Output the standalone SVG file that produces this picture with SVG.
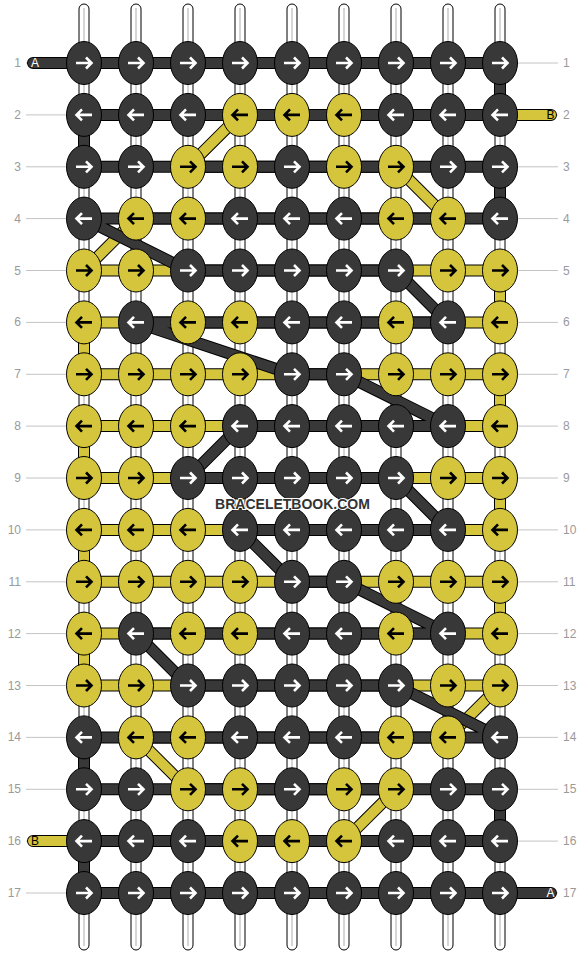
<svg xmlns="http://www.w3.org/2000/svg" width="584" height="956" viewBox="0 0 584 956">
<style>
.kd{fill:#383838;stroke:#000;stroke-width:1}
.ky{fill:#d4c53c;stroke:#000;stroke-width:1}
.aw{fill:none;stroke:#fff;stroke-width:2.6}
.ab{fill:none;stroke:#000;stroke-width:2.6}
.warp{fill:#fff;stroke:#000;stroke-width:1}
.wc{stroke:#c8c8c8;stroke-width:1.5}
.guide{stroke:#c4c4c4;stroke-width:1}
.num{font-family:"Liberation Sans",Arial,sans-serif;font-size:12px;fill:#9a9a9a}
.out{fill:none;stroke:#000;stroke-width:12;stroke-linecap:round;stroke-linejoin:round}
.sy{fill:none;stroke:#d4c53c;stroke-width:10;stroke-linecap:round;stroke-linejoin:round}
.sd{fill:none;stroke:#383838;stroke-width:10;stroke-linecap:round;stroke-linejoin:round}
.pl{font-family:"Liberation Sans",Arial,sans-serif;font-size:12px;text-anchor:middle}
.wm{font-family:"Liberation Sans",Arial,sans-serif;font-size:14px;font-weight:bold;fill:#333;text-anchor:middle;stroke:#fff;stroke-width:2;paint-order:stroke}
</style>
<defs>
<g id="dR"><ellipse rx="17.5" ry="21.5" class="kd"/><path class="aw" d="M-8,0H7M2,-5.5L7.5,0L2,5.5"/></g>
<g id="dL"><ellipse rx="17.5" ry="21.5" class="kd"/><path class="aw" d="M8,0H-7M-2,-5.5L-7.5,0L-2,5.5"/></g>
<g id="yR"><ellipse rx="17.5" ry="21.5" class="ky"/><path class="ab" d="M-8,0H7M2,-5.5L7.5,0L2,5.5"/></g>
<g id="yL"><ellipse rx="17.5" ry="21.5" class="ky"/><path class="ab" d="M8,0H-7M-2,-5.5L-7.5,0L-2,5.5"/></g>
</defs>
<rect width="584" height="956" fill="#fff"/>
<g id="guides">
<line class="guide" x1="26" y1="63" x2="558" y2="63"/>
<line class="guide" x1="26" y1="114.9" x2="558" y2="114.9"/>
<line class="guide" x1="26" y1="166.8" x2="558" y2="166.8"/>
<line class="guide" x1="26" y1="218.6" x2="558" y2="218.6"/>
<line class="guide" x1="26" y1="270.5" x2="558" y2="270.5"/>
<line class="guide" x1="26" y1="322.4" x2="558" y2="322.4"/>
<line class="guide" x1="26" y1="374.3" x2="558" y2="374.3"/>
<line class="guide" x1="26" y1="426.1" x2="558" y2="426.1"/>
<line class="guide" x1="26" y1="478" x2="558" y2="478"/>
<line class="guide" x1="26" y1="529.9" x2="558" y2="529.9"/>
<line class="guide" x1="26" y1="581.8" x2="558" y2="581.8"/>
<line class="guide" x1="26" y1="633.6" x2="558" y2="633.6"/>
<line class="guide" x1="26" y1="685.5" x2="558" y2="685.5"/>
<line class="guide" x1="26" y1="737.4" x2="558" y2="737.4"/>
<line class="guide" x1="26" y1="789.3" x2="558" y2="789.3"/>
<line class="guide" x1="26" y1="841.1" x2="558" y2="841.1"/>
<line class="guide" x1="26" y1="893" x2="558" y2="893"/>
</g>
<g id="row-numbers">
<text class="num" x="21" y="67" text-anchor="end">1</text>
<text class="num" x="21" y="118.9" text-anchor="end">2</text>
<text class="num" x="21" y="170.8" text-anchor="end">3</text>
<text class="num" x="21" y="222.6" text-anchor="end">4</text>
<text class="num" x="21" y="274.5" text-anchor="end">5</text>
<text class="num" x="21" y="326.4" text-anchor="end">6</text>
<text class="num" x="21" y="378.3" text-anchor="end">7</text>
<text class="num" x="21" y="430.1" text-anchor="end">8</text>
<text class="num" x="21" y="482" text-anchor="end">9</text>
<text class="num" x="21" y="533.9" text-anchor="end">10</text>
<text class="num" x="21" y="585.8" text-anchor="end">11</text>
<text class="num" x="21" y="637.6" text-anchor="end">12</text>
<text class="num" x="21" y="689.5" text-anchor="end">13</text>
<text class="num" x="21" y="741.4" text-anchor="end">14</text>
<text class="num" x="21" y="793.3" text-anchor="end">15</text>
<text class="num" x="21" y="845.1" text-anchor="end">16</text>
<text class="num" x="21" y="897" text-anchor="end">17</text>
<text class="num" x="563" y="67">1</text>
<text class="num" x="563" y="118.9">2</text>
<text class="num" x="563" y="170.8">3</text>
<text class="num" x="563" y="222.6">4</text>
<text class="num" x="563" y="274.5">5</text>
<text class="num" x="563" y="326.4">6</text>
<text class="num" x="563" y="378.3">7</text>
<text class="num" x="563" y="430.1">8</text>
<text class="num" x="563" y="482">9</text>
<text class="num" x="563" y="533.9">10</text>
<text class="num" x="563" y="585.8">11</text>
<text class="num" x="563" y="637.6">12</text>
<text class="num" x="563" y="689.5">13</text>
<text class="num" x="563" y="741.4">14</text>
<text class="num" x="563" y="793.3">15</text>
<text class="num" x="563" y="845.1">16</text>
<text class="num" x="563" y="897">17</text>
</g>
<g id="warps">
<rect class="warp" x="79" y="4" width="10" height="946" rx="5"/><line class="wc" x1="84" y1="8" x2="84" y2="946"/>
<rect class="warp" x="131" y="4" width="10" height="946" rx="5"/><line class="wc" x1="136" y1="8" x2="136" y2="946"/>
<rect class="warp" x="183" y="4" width="10" height="946" rx="5"/><line class="wc" x1="188" y1="8" x2="188" y2="946"/>
<rect class="warp" x="235" y="4" width="10" height="946" rx="5"/><line class="wc" x1="240" y1="8" x2="240" y2="946"/>
<rect class="warp" x="287" y="4" width="10" height="946" rx="5"/><line class="wc" x1="292" y1="8" x2="292" y2="946"/>
<rect class="warp" x="339" y="4" width="10" height="946" rx="5"/><line class="wc" x1="344" y1="8" x2="344" y2="946"/>
<rect class="warp" x="391" y="4" width="10" height="946" rx="5"/><line class="wc" x1="396" y1="8" x2="396" y2="946"/>
<rect class="warp" x="443" y="4" width="10" height="946" rx="5"/><line class="wc" x1="448" y1="8" x2="448" y2="946"/>
<rect class="warp" x="495" y="4" width="10" height="946" rx="5"/><line class="wc" x1="500" y1="8" x2="500" y2="946"/>
</g>
<g id="connectors">
<path id="stringB-out" class="out" d="M551,114.9H240L188,166.8H396L448,218.6H136L84,270.5H500V322.4H84V374.3H500V426.1H84V478H500V529.9H84V581.8H500V633.6H84V685.5H500L448,737.4H136L188,789.3H396L344,841.1H33"/>
<path id="stringB" class="sy" d="M551,114.9H240L188,166.8H396L448,218.6H136L84,270.5H500V322.4H84V374.3H500V426.1H84V478H500V529.9H84V581.8H500V633.6H84V685.5H500L448,737.4H136L188,789.3H396L344,841.1H33"/>
<path id="stringA-out" class="out" d="M33,63H500V114.9H84V166.8H500V218.6H84L188,270.5H396L448,322.4H136L292,374.3H344L448,426.1H240L188,478H396L448,529.9H240L292,581.8H344L448,633.6H136L188,685.5H396L500,737.4H84V789.3H500V841.1H84V893H551"/>
<path id="stringA" class="sd" d="M33,63H500V114.9H84V166.8H500V218.6H84L188,270.5H396L448,322.4H136L292,374.3H344L448,426.1H240L188,478H396L448,529.9H240L292,581.8H344L448,633.6H136L188,685.5H396L500,737.4H84V789.3H500V841.1H84V893H551"/>
<text class="pl" x="35" y="67.3" fill="#fff">A</text>
<text class="pl" x="550.5" y="119.2" fill="#000">B</text>
<text class="pl" x="35" y="845.4" fill="#000">B</text>
<text class="pl" x="550.5" y="897.3" fill="#fff">A</text>
</g>
<g id="knots">
<g id="k1-1"><use href="#dR" x="84" y="63"/></g>
<g id="k1-2"><use href="#dR" x="136" y="63"/></g>
<g id="k1-3"><use href="#dR" x="188" y="63"/></g>
<g id="k1-4"><use href="#dR" x="240" y="63"/></g>
<g id="k1-5"><use href="#dR" x="292" y="63"/></g>
<g id="k1-6"><use href="#dR" x="344" y="63"/></g>
<g id="k1-7"><use href="#dR" x="396" y="63"/></g>
<g id="k1-8"><use href="#dR" x="448" y="63"/></g>
<g id="k1-9"><use href="#dR" x="500" y="63"/></g>

<g id="k2-1"><use href="#dL" x="84" y="114.9"/></g>
<g id="k2-2"><use href="#dL" x="136" y="114.9"/></g>
<g id="k2-3"><use href="#dL" x="188" y="114.9"/></g>
<g id="k2-4"><use href="#yL" x="240" y="114.9"/></g>
<g id="k2-5"><use href="#yL" x="292" y="114.9"/></g>
<g id="k2-6"><use href="#yL" x="344" y="114.9"/></g>
<g id="k2-7"><use href="#dL" x="396" y="114.9"/></g>
<g id="k2-8"><use href="#dL" x="448" y="114.9"/></g>
<g id="k2-9"><use href="#dL" x="500" y="114.9"/></g>

<g id="k3-1"><use href="#dR" x="84" y="166.8"/></g>
<g id="k3-2"><use href="#dR" x="136" y="166.8"/></g>
<g id="k3-3"><use href="#yR" x="188" y="166.8"/></g>
<g id="k3-4"><use href="#yR" x="240" y="166.8"/></g>
<g id="k3-5"><use href="#dR" x="292" y="166.8"/></g>
<g id="k3-6"><use href="#yR" x="344" y="166.8"/></g>
<g id="k3-7"><use href="#yR" x="396" y="166.8"/></g>
<g id="k3-8"><use href="#dR" x="448" y="166.8"/></g>
<g id="k3-9"><use href="#dR" x="500" y="166.8"/></g>

<g id="k4-1"><use href="#dL" x="84" y="218.6"/></g>
<g id="k4-2"><use href="#yL" x="136" y="218.6"/></g>
<g id="k4-3"><use href="#yL" x="188" y="218.6"/></g>
<g id="k4-4"><use href="#dL" x="240" y="218.6"/></g>
<g id="k4-5"><use href="#dL" x="292" y="218.6"/></g>
<g id="k4-6"><use href="#dL" x="344" y="218.6"/></g>
<g id="k4-7"><use href="#yL" x="396" y="218.6"/></g>
<g id="k4-8"><use href="#yL" x="448" y="218.6"/></g>
<g id="k4-9"><use href="#dL" x="500" y="218.6"/></g>

<g id="k5-1"><use href="#yR" x="84" y="270.5"/></g>
<g id="k5-2"><use href="#yR" x="136" y="270.5"/></g>
<g id="k5-3"><use href="#dR" x="188" y="270.5"/></g>
<g id="k5-4"><use href="#dR" x="240" y="270.5"/></g>
<g id="k5-5"><use href="#dR" x="292" y="270.5"/></g>
<g id="k5-6"><use href="#dR" x="344" y="270.5"/></g>
<g id="k5-7"><use href="#dR" x="396" y="270.5"/></g>
<g id="k5-8"><use href="#yR" x="448" y="270.5"/></g>
<g id="k5-9"><use href="#yR" x="500" y="270.5"/></g>

<g id="k6-1"><use href="#yL" x="84" y="322.4"/></g>
<g id="k6-2"><use href="#dL" x="136" y="322.4"/></g>
<g id="k6-3"><use href="#yL" x="188" y="322.4"/></g>
<g id="k6-4"><use href="#yL" x="240" y="322.4"/></g>
<g id="k6-5"><use href="#dL" x="292" y="322.4"/></g>
<g id="k6-6"><use href="#dL" x="344" y="322.4"/></g>
<g id="k6-7"><use href="#yL" x="396" y="322.4"/></g>
<g id="k6-8"><use href="#dL" x="448" y="322.4"/></g>
<g id="k6-9"><use href="#yL" x="500" y="322.4"/></g>

<g id="k7-1"><use href="#yR" x="84" y="374.3"/></g>
<g id="k7-2"><use href="#yR" x="136" y="374.3"/></g>
<g id="k7-3"><use href="#yR" x="188" y="374.3"/></g>
<g id="k7-4"><use href="#yR" x="240" y="374.3"/></g>
<g id="k7-5"><use href="#dR" x="292" y="374.3"/></g>
<g id="k7-6"><use href="#dR" x="344" y="374.3"/></g>
<g id="k7-7"><use href="#yR" x="396" y="374.3"/></g>
<g id="k7-8"><use href="#yR" x="448" y="374.3"/></g>
<g id="k7-9"><use href="#yR" x="500" y="374.3"/></g>

<g id="k8-1"><use href="#yL" x="84" y="426.1"/></g>
<g id="k8-2"><use href="#yL" x="136" y="426.1"/></g>
<g id="k8-3"><use href="#yL" x="188" y="426.1"/></g>
<g id="k8-4"><use href="#dL" x="240" y="426.1"/></g>
<g id="k8-5"><use href="#dL" x="292" y="426.1"/></g>
<g id="k8-6"><use href="#dL" x="344" y="426.1"/></g>
<g id="k8-7"><use href="#dL" x="396" y="426.1"/></g>
<g id="k8-8"><use href="#dL" x="448" y="426.1"/></g>
<g id="k8-9"><use href="#yL" x="500" y="426.1"/></g>

<g id="k9-1"><use href="#yR" x="84" y="478"/></g>
<g id="k9-2"><use href="#yR" x="136" y="478"/></g>
<g id="k9-3"><use href="#dR" x="188" y="478"/></g>
<g id="k9-4"><use href="#dR" x="240" y="478"/></g>
<g id="k9-5"><use href="#dR" x="292" y="478"/></g>
<g id="k9-6"><use href="#dR" x="344" y="478"/></g>
<g id="k9-7"><use href="#dR" x="396" y="478"/></g>
<g id="k9-8"><use href="#yR" x="448" y="478"/></g>
<g id="k9-9"><use href="#yR" x="500" y="478"/></g>

<g id="k10-1"><use href="#yL" x="84" y="529.9"/></g>
<g id="k10-2"><use href="#yL" x="136" y="529.9"/></g>
<g id="k10-3"><use href="#yL" x="188" y="529.9"/></g>
<g id="k10-4"><use href="#dL" x="240" y="529.9"/></g>
<g id="k10-5"><use href="#dL" x="292" y="529.9"/></g>
<g id="k10-6"><use href="#dL" x="344" y="529.9"/></g>
<g id="k10-7"><use href="#dL" x="396" y="529.9"/></g>
<g id="k10-8"><use href="#dL" x="448" y="529.9"/></g>
<g id="k10-9"><use href="#yL" x="500" y="529.9"/></g>

<g id="k11-1"><use href="#yR" x="84" y="581.8"/></g>
<g id="k11-2"><use href="#yR" x="136" y="581.8"/></g>
<g id="k11-3"><use href="#yR" x="188" y="581.8"/></g>
<g id="k11-4"><use href="#yR" x="240" y="581.8"/></g>
<g id="k11-5"><use href="#dR" x="292" y="581.8"/></g>
<g id="k11-6"><use href="#dR" x="344" y="581.8"/></g>
<g id="k11-7"><use href="#yR" x="396" y="581.8"/></g>
<g id="k11-8"><use href="#yR" x="448" y="581.8"/></g>
<g id="k11-9"><use href="#yR" x="500" y="581.8"/></g>

<g id="k12-1"><use href="#yL" x="84" y="633.6"/></g>
<g id="k12-2"><use href="#dL" x="136" y="633.6"/></g>
<g id="k12-3"><use href="#yL" x="188" y="633.6"/></g>
<g id="k12-4"><use href="#yL" x="240" y="633.6"/></g>
<g id="k12-5"><use href="#dL" x="292" y="633.6"/></g>
<g id="k12-6"><use href="#dL" x="344" y="633.6"/></g>
<g id="k12-7"><use href="#yL" x="396" y="633.6"/></g>
<g id="k12-8"><use href="#dL" x="448" y="633.6"/></g>
<g id="k12-9"><use href="#yL" x="500" y="633.6"/></g>

<g id="k13-1"><use href="#yR" x="84" y="685.5"/></g>
<g id="k13-2"><use href="#yR" x="136" y="685.5"/></g>
<g id="k13-3"><use href="#dR" x="188" y="685.5"/></g>
<g id="k13-4"><use href="#dR" x="240" y="685.5"/></g>
<g id="k13-5"><use href="#dR" x="292" y="685.5"/></g>
<g id="k13-6"><use href="#dR" x="344" y="685.5"/></g>
<g id="k13-7"><use href="#dR" x="396" y="685.5"/></g>
<g id="k13-8"><use href="#yR" x="448" y="685.5"/></g>
<g id="k13-9"><use href="#yR" x="500" y="685.5"/></g>

<g id="k14-1"><use href="#dL" x="84" y="737.4"/></g>
<g id="k14-2"><use href="#yL" x="136" y="737.4"/></g>
<g id="k14-3"><use href="#yL" x="188" y="737.4"/></g>
<g id="k14-4"><use href="#dL" x="240" y="737.4"/></g>
<g id="k14-5"><use href="#dL" x="292" y="737.4"/></g>
<g id="k14-6"><use href="#dL" x="344" y="737.4"/></g>
<g id="k14-7"><use href="#yL" x="396" y="737.4"/></g>
<g id="k14-8"><use href="#yL" x="448" y="737.4"/></g>
<g id="k14-9"><use href="#dL" x="500" y="737.4"/></g>

<g id="k15-1"><use href="#dR" x="84" y="789.3"/></g>
<g id="k15-2"><use href="#dR" x="136" y="789.3"/></g>
<g id="k15-3"><use href="#yR" x="188" y="789.3"/></g>
<g id="k15-4"><use href="#yR" x="240" y="789.3"/></g>
<g id="k15-5"><use href="#dR" x="292" y="789.3"/></g>
<g id="k15-6"><use href="#yR" x="344" y="789.3"/></g>
<g id="k15-7"><use href="#yR" x="396" y="789.3"/></g>
<g id="k15-8"><use href="#dR" x="448" y="789.3"/></g>
<g id="k15-9"><use href="#dR" x="500" y="789.3"/></g>

<g id="k16-1"><use href="#dL" x="84" y="841.1"/></g>
<g id="k16-2"><use href="#dL" x="136" y="841.1"/></g>
<g id="k16-3"><use href="#dL" x="188" y="841.1"/></g>
<g id="k16-4"><use href="#yL" x="240" y="841.1"/></g>
<g id="k16-5"><use href="#yL" x="292" y="841.1"/></g>
<g id="k16-6"><use href="#yL" x="344" y="841.1"/></g>
<g id="k16-7"><use href="#dL" x="396" y="841.1"/></g>
<g id="k16-8"><use href="#dL" x="448" y="841.1"/></g>
<g id="k16-9"><use href="#dL" x="500" y="841.1"/></g>

<g id="k17-1"><use href="#dR" x="84" y="893"/></g>
<g id="k17-2"><use href="#dR" x="136" y="893"/></g>
<g id="k17-3"><use href="#dR" x="188" y="893"/></g>
<g id="k17-4"><use href="#dR" x="240" y="893"/></g>
<g id="k17-5"><use href="#dR" x="292" y="893"/></g>
<g id="k17-6"><use href="#dR" x="344" y="893"/></g>
<g id="k17-7"><use href="#dR" x="396" y="893"/></g>
<g id="k17-8"><use href="#dR" x="448" y="893"/></g>
<g id="k17-9"><use href="#dR" x="500" y="893"/></g>
</g>
<text class="wm" x="292.5" y="509">BRACELETBOOK.COM</text>
</svg>
